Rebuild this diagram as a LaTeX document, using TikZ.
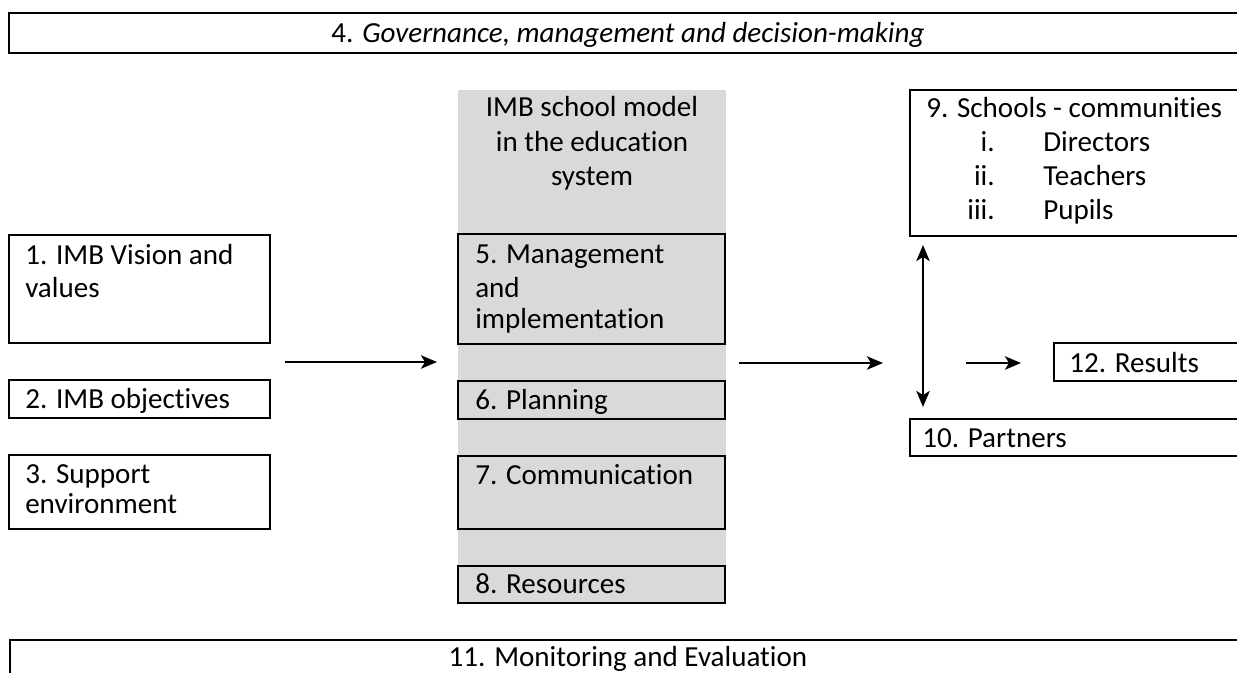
\documentclass[tikz,border=0pt]{standalone}
\usepackage{fontspec}
\setmainfont{Carlito}[RawFeature=-liga]
\usetikzlibrary{arrows.meta,fit}
\definecolor{colgray}{HTML}{D9D9D9}
\newcommand{\fsz}{\fontsize{21.8pt}{24.8pt}\selectfont}
\tikzset{
  frame/.style={draw=black, line width=1.5pt, rectangle, inner sep=0pt},
  grayframe/.style={frame, fill=colgray},
  txt/.style={inner sep=0pt, font=\fsz, text=black},
  arr/.style={line width=1.9pt, -{Stealth[length=12pt, width=10pt, inset=3pt]}},
  dblarr/.style={line width=1.9pt, {Stealth[length=12pt, width=10pt, inset=3pt]}-{Stealth[length=12pt, width=10pt, inset=3pt]}}
}
\begin{document}
\begin{tikzpicture}[x=0.75pt, y=-0.75pt]
\useasboundingbox (0,0) rectangle (1237,673);
\clip (0,0) rectangle (1237,673);
\fill[white] (0,0) rectangle (1237,673);

% top and bottom bands
\node[frame, fit={(9,13) (1250,53)}] (gov) {};
\node[txt, anchor=base] (govt) at (628,43) {4. \textit{Governance, management and decision-making}};
\node[frame, fit={(10,640) (1250,700)}] (mon) {};
\node[txt, anchor=base] (mont) at (628,666) {11. Monitoring and Evaluation};

% left boxes
\node[frame, fit={(9,235) (270,343)}] (b1) {};
\node[txt, anchor=base west] (b1a) at (25,265) {1. IMB Vision and};
\node[txt, anchor=base west] (b1b) at (25,297) {values};
\node[frame, fit={(9,380) (270,418)}] (b2) {};
\node[txt, anchor=base west] (b2a) at (25,408) {2. IMB objectives};
\node[frame, fit={(9,455) (270,529)}] (b3) {};
\node[txt, anchor=base west] (b3a) at (25,483) {3. Support};
\node[txt, anchor=base west] (b3b) at (25,513) {environment};

% central column
\node[fill=colgray, inner sep=0pt, fit={(458,90) (726,603)}] (col) {};
\node[txt, anchor=base] (h1) at (592,117) {IMB school model};
\node[txt, anchor=base] (h2) at (592,152) {in the education};
\node[txt, anchor=base] (h3) at (592,186) {system};
\node[grayframe, fit={(458,234) (725,344)}] (b5) {};
\node[txt, anchor=base west] (b5a) at (475,264) {5. Management};
\node[txt, anchor=base west] (b5b) at (475,297) {and};
\node[txt, anchor=base west] (b5c) at (475,328) {implementation};
\node[grayframe, fit={(458,381) (725,419)}] (b6) {};
\node[txt, anchor=base west] (b6a) at (475,409) {6. Planning};
\node[grayframe, fit={(458,456) (725,529)}] (b7) {};
\node[txt, anchor=base west] (b7a) at (475,484) {7. Communication};
\node[grayframe, fit={(458,566) (725,603)}] (b8) {};
\node[txt, anchor=base west] (b8a) at (475,593) {8. Resources};

% right boxes
\node[frame, fit={(910,90) (1250,236)}] (b9) {};
\node[txt, anchor=base west] (b9a) at (926,118) {9. Schools - communities};
\node[txt, anchor=base east] (b9n1) at (995,152) {i.};
\node[txt, anchor=base west] (b9t1) at (1043,152) {Directors};
\node[txt, anchor=base east] (b9n2) at (995,186) {ii.};
\node[txt, anchor=base west] (b9t2) at (1043,186) {Teachers};
\node[txt, anchor=base east] (b9n3) at (995,220) {iii.};
\node[txt, anchor=base west] (b9t3) at (1043,220) {Pupils};
\node[frame, fit={(1054,343) (1250,381)}] (b12) {};
\node[txt, anchor=base west] (b12a) at (1069,372) {12. Results};
\node[frame, fit={(910,419) (1250,456)}] (b10) {};
\node[txt, anchor=base west] (b10a) at (922,447) {10. Partners};

% arrows
\coordinate (a1s) at (285,362);
\coordinate (a1e) at (437,362);
\coordinate (a2s) at (739,363);
\coordinate (a2e) at (883,363);
\coordinate (a3s) at (966,363);
\coordinate (a3e) at (1021,363);
\coordinate (d1) at (923,245);
\coordinate (d2) at (923,407);
\draw[arr] (a1s) -- (a1e);
\draw[arr] (a2s) -- (a2e);
\draw[arr] (a3s) -- (a3e);
\draw[dblarr] (d1) -- (d2);
\end{tikzpicture}
\end{document}
